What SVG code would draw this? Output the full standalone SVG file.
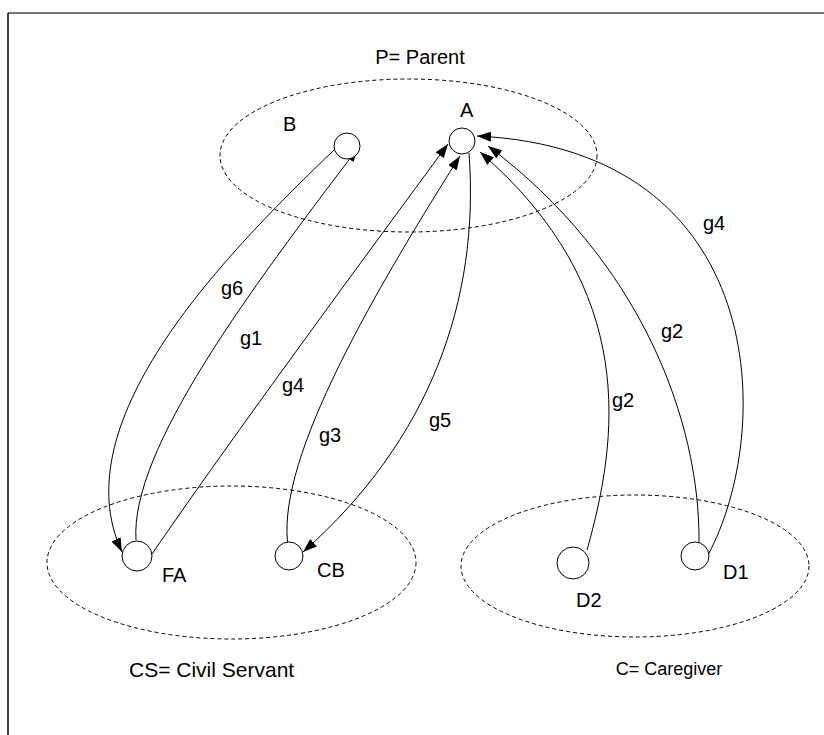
<svg xmlns="http://www.w3.org/2000/svg" width="824" height="735" viewBox="0 0 824 735">
<defs>
<style>
.t{font-family:"Liberation Sans",Arial,sans-serif;font-size:20px;fill:#000}
.s{font-size:18px}
.l{font-size:21px}
.grp{fill:none;stroke:#000;stroke-width:1;stroke-dasharray:4 3}
.n{fill:#fff;stroke:#000;stroke-width:1}
.e{fill:none;stroke:#000;stroke-width:1;marker-end:url(#ah)}
</style>
<marker id="ah" markerWidth="14" markerHeight="10" refX="14" refY="5" orient="auto" markerUnits="userSpaceOnUse">
<path d="M0,0 L14,5 L0,10 z" fill="#000"/>
</marker>
</defs>
<rect width="824" height="735" fill="#fff"/>
<g id="frame">
<line x1="8" y1="13" x2="824" y2="13" stroke="#777" stroke-width="2"/>
<line x1="8" y1="13" x2="8" y2="735" stroke="#000" stroke-width="1.5"/>
</g>
<g id="groups">
<ellipse class="grp" cx="408.5" cy="155.5" rx="188.5" ry="76.5"/>
<ellipse class="grp" cx="231.5" cy="562.5" rx="184.5" ry="76.5"/>
<ellipse class="grp" cx="635" cy="566" rx="174" ry="71"/>
<text class="t" x="420" y="64" text-anchor="middle">P= Parent</text>
<text class="t l" x="129" y="677">CS= Civil Servant</text>
<text class="t s" x="669" y="675" text-anchor="middle">C= Caregiver</text>
</g>
<g id="connectors">
<path class="e" d="M334,150 C230,250 60,420 122,552"/>
<path class="e" d="M136,540 C130,450 250,290 358,148"/>
<path class="e" d="M152,554 C230,440 370,250 448,144"/>
<path class="e" d="M290,556 C270,480 350,330 460,156"/>
<path class="e" d="M469,153 C480,300 430,440 303,552"/>
<path class="e" d="M587,550 C618,440 640,290 480,152"/>
<path class="e" d="M699,542 C700,420 640,260 488,146"/>
<path class="e" d="M708,555 C775,430 770,150 477,136"/>
<text class="t" x="221" y="295">g6</text>
<text class="t" x="240" y="345">g1</text>
<text class="t" x="282" y="392">g4</text>
<text class="t" x="319" y="442">g3</text>
<text class="t" x="429" y="427">g5</text>
<text class="t" x="703" y="230">g4</text>
<text class="t" x="661" y="338">g2</text>
<text class="t" x="612" y="407">g2</text>
</g>
<g id="node-A"><circle class="n" cx="462" cy="141" r="13"/><text class="t" x="460" y="117">A</text></g>
<g id="node-B"><circle class="n" cx="347" cy="146" r="13"/><text class="t" x="283" y="131">B</text></g>
<g id="node-FA"><circle class="n" cx="137" cy="556" r="15"/><text class="t" x="162" y="582">FA</text></g>
<g id="node-CB"><circle class="n" cx="289" cy="556" r="14"/><text class="t" x="317" y="577">CB</text></g>
<g id="node-D2"><circle class="n" cx="573" cy="563" r="16"/><text class="t" x="576" y="607">D2</text></g>
<g id="node-D1"><circle class="n" cx="695" cy="556" r="14"/><text class="t" x="723" y="579">D1</text></g>
</svg>
